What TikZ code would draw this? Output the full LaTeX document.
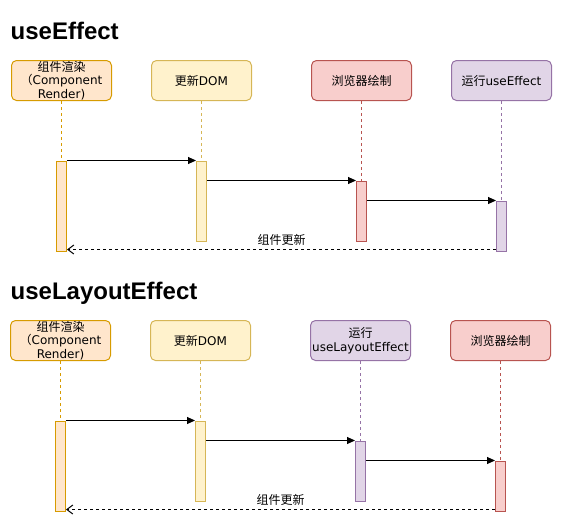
\documentclass[tikz,border=0pt]{standalone}
\usepackage{fontspec}
\setmainfont{Liberation Sans}
\newfontfamily\lat{DejaVu Sans}
\newfontfamily\cjk{Noto Sans CJK SC}
\usepackage{xcolor}
\usepackage{tikz}
\usetikzlibrary{arrows.meta}
\definecolor{orgfill}{HTML}{FFE6CC}
\definecolor{orgline}{HTML}{D79B00}
\definecolor{ylwfill}{HTML}{FFF2CC}
\definecolor{ylwline}{HTML}{D6B656}
\definecolor{redfill}{HTML}{F8CECC}
\definecolor{redline}{HTML}{B85450}
\definecolor{pplfill}{HTML}{E1D5E7}
\definecolor{pplline}{HTML}{9673A6}
\def\zh#1{{\cjk #1}}
\tikzset{
	box/.style={draw=#1line,fill=#1fill,rounded corners=5pt,line width=1pt,minimum width=100pt,minimum height=40pt,inner sep=0pt,align=center,font=\lat\fontsize{12}{13.5}\selectfont},
	act/.style={draw=#1line,fill=#1fill,line width=1pt,minimum width=10pt,inner sep=0pt,anchor=north},
	life/.style={draw=#1line,line width=1pt,dash pattern=on 3pt off 3pt},
	msg/.style={line width=1pt,-{Triangle[length=8pt,width=7pt]}},
	ret/.style={line width=1pt,dash pattern=on 3pt off 3pt,-{Straight Barb[length=6pt,width=9pt]}},
	retlabel/.style={midway,above,font=\cjk\fontsize{12}{12}\selectfont},
	title/.style={anchor=base west,inner sep=0pt,font=\bfseries\fontsize{24}{24}\selectfont}
}

\begin{document}
\begin{tikzpicture}[x=1pt,y=-1pt]
	\useasboundingbox (0,0) rectangle (562,530);
	% useEffect
	\node[title] (t1) at (10.5,39) {useEffect};
	\node[box=org] (e1) at (61.5,80.5) {\zh{组件渲染}\\\zh{（}Component\\Render)};
	\node[box=ylw] (e2) at (201.5,80.5) {\zh{更新}DOM};
	\node[box=red] (e3) at (361.5,80.5) {\zh{浏览器绘制}};
	\node[box=ppl] (e4) at (501.5,80.5) {\zh{运行}useEffect};
	\coordinate (ea1t) at (61.5,160.5);
	\coordinate (ea2t) at (201.5,160.5);
	\coordinate (ea3t) at (361.5,180.5);
	\coordinate (ea4t) at (501.5,200.5);
	\draw[life=org] (e1.south) -- (ea1t);
	\draw[life=ylw] (e2.south) -- (ea2t);
	\draw[life=red] (e3.south) -- (ea3t);
	\draw[life=ppl] (e4.south) -- (ea4t);
	\node[act=org,minimum height=90pt] (ea1) at (ea1t) {};
	\node[act=ylw,minimum height=80pt] (ea2) at (ea2t) {};
	\node[act=red,minimum height=60pt] (ea3) at (ea3t) {};
	\node[act=ppl,minimum height=50pt] (ea4) at (ea4t) {};
	\draw[msg] (ea1.north east) -- (ea2.north west);
	\draw[msg] (ea3.north west -| ea2.east) -- (ea3.north west);
	\draw[msg] (ea4.north west -| ea3.east) -- (ea4.north west);
	\coordinate (er) at ([yshift=2pt]ea4.south west);
	\draw[ret] (er) -- (er -| ea1.east) node[retlabel] {组件更新};

	% useLayoutEffect
	\node[title] (t2) at (10.5,299) {useLayoutEffect};
	\node[box=org] (l1) at (60.5,340.5) {\zh{组件渲染}\\\zh{（}Component\\Render)};
	\node[box=ylw] (l2) at (200.5,340.5) {\zh{更新}DOM};
	\node[box=ppl] (l3) at (360.5,340.5) {\zh{运行}\\useLayoutEffect};
	\node[box=red] (l4) at (500.5,340.5) {\zh{浏览器绘制}};
	\coordinate (la1t) at (60.5,420.5);
	\coordinate (la2t) at (200.5,420.5);
	\coordinate (la3t) at (360.5,440.5);
	\coordinate (la4t) at (500.5,460.5);
	\draw[life=org] (l1.south) -- (la1t);
	\draw[life=ylw] (l2.south) -- (la2t);
	\draw[life=ppl] (l3.south) -- (la3t);
	\draw[life=red] (l4.south) -- (la4t);
	\node[act=org,minimum height=90pt] (la1) at (la1t) {};
	\node[act=ylw,minimum height=80pt] (la2) at (la2t) {};
	\node[act=ppl,minimum height=60pt] (la3) at (la3t) {};
	\node[act=red,minimum height=50pt] (la4) at (la4t) {};
	\draw[msg] (la1.north east) -- (la2.north west);
	\draw[msg] (la3.north west -| la2.east) -- (la3.north west);
	\draw[msg] (la4.north west -| la3.east) -- (la4.north west);
	\coordinate (lr) at ([yshift=2pt]la4.south west);
	\draw[ret] (lr) -- (lr -| la1.east) node[retlabel] {组件更新};
\end{tikzpicture}
\end{document}
